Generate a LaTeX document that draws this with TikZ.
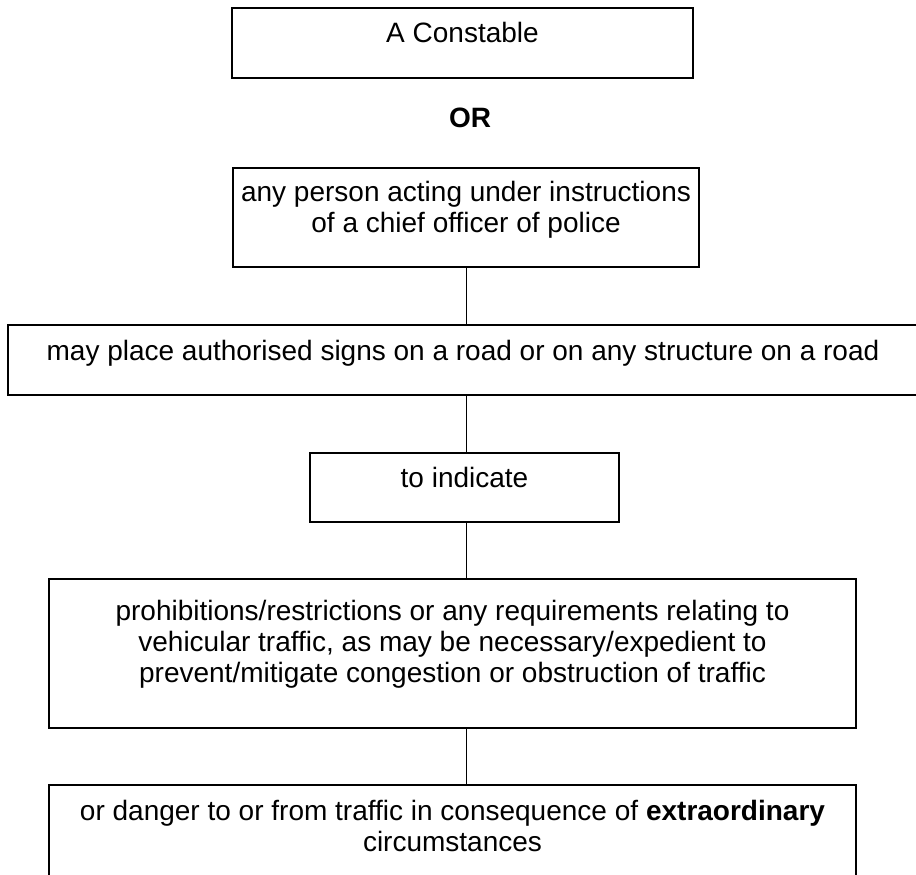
\documentclass[tikz,border=0pt]{standalone}
\usepackage{fontspec}
\setmainfont{Liberation Sans}
\tikzset{
  % For the framed statements; text height/depth put the text near the top.
  % (The node's baseline is that of its last line.)
  box/.style={
    draw,
    line width=1.6pt,
    anchor=north,
    align=center,
    inner xsep=0pt,
    inner ysep=0pt,
    font=\fontsize{28pt}{31pt}\selectfont},
%
  % For the thin lines that join the boxes.
  link/.style={
    line width=1pt},
%
  % For the bold word between the first two boxes.
  choice/.style={
    anchor=base,
    inner sep=0pt,
    font=\fontsize{28pt}{31pt}\selectfont\bfseries}
}

\begin{document}
\begin{tikzpicture}[x=1pt, y=-1pt]
  \useasboundingbox (0,0) rectangle (916,875);

  % The boxes, from top to bottom.
  \node[box, minimum width=461pt, text height=35pt, text depth=35pt]
    (box1) at (462.5,7) {A Constable};
  \node[choice] (or) at (470,128) {OR};
  \node[box, minimum width=466pt, text height=65pt, text depth=34pt]
    (box2) at (466,167) {any person acting under instructions\\
                         of a chief officer of police};
  \node[box, minimum width=910pt, text height=36pt, text depth=34pt]
    (box3) at (463,324)
    {may place authorised signs on a road or on any structure on a road};
  \node[box, minimum width=309pt, text height=35pt, text depth=34pt]
    (box4) at (464.5,452) {to indicate};
  \node[box, minimum width=807pt, text height=104pt, text depth=45pt]
    (box5) at (452.5,578)
    {prohibitions/restrictions or any requirements relating to\\
     vehicular traffic, as may be necessary/expedient to\\
     prevent/mitigate congestion or obstruction of traffic};
  \node[box, minimum width=807pt, text height=67pt, text depth=33pt]
    (box6) at (452.5,784)
    {or danger to or from traffic in consequence of \textbf{extraordinary}\\
     circumstances};

  % Straight joins, all on the line through box2.
  \foreach \a/\b in {box2/box3, box3/box4, box4/box5, box5/box6}
    \draw[link] (\a.south -| box2.south) -- (\b.north -| box2.south);
\end{tikzpicture}
\end{document}
